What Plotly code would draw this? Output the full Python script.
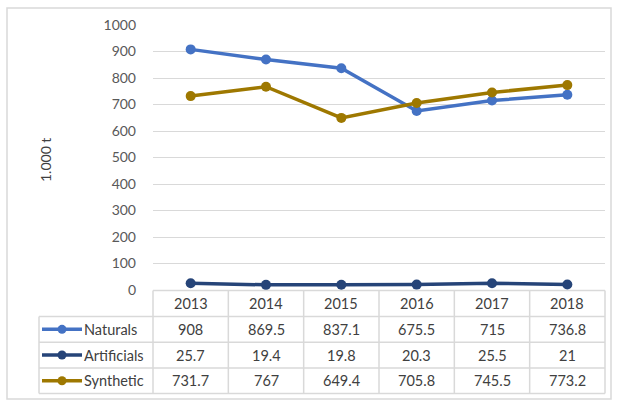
import plotly.graph_objects as go

years = ["2013", "2014", "2015", "2016", "2017", "2018"]
naturals = [908, 869.5, 837.1, 675.5, 715, 736.8]
artificials = [25.7, 19.4, 19.8, 20.3, 25.5, 21]
synthetic = [731.7, 767, 649.4, 705.8, 745.5, 773.2]
series_names = ["Naturals", "Artificials", "Synthetic"]
series_vals = [naturals, artificials, synthetic]
colors = ["#4472C4", "#264478", "#9E7800"]
y_ticks = [0, 100, 200, 300, 400, 500, 600, 700, 800, 900, 1000]

W, H = 618, 404
L, R, T, B = 153, 13, 25, 114
PW, PH = W - L - R, H - T - B

def px(x):
    return (x - L) / PW

def py(y):
    return (H - B - y) / PH

FONT = "Lato, Calibri, Carlito, sans-serif"
TXT = "#404040"
GRID = "#d9d9d9"
TFS = 14.5

fig = go.Figure()
for name, vals, c in zip(series_names, series_vals, colors):
    fig.add_trace(go.Scatter(
        x=list(range(len(years))), y=vals, name=name, mode="lines+markers",
        line=dict(color=c, width=3.5), marker=dict(color=c, size=10),
        showlegend=False, cliponaxis=False))

shapes = []
annotations = []
# outer border
shapes.append(dict(type="rect", xref="paper", yref="paper", x0=px(7), x1=px(611), y0=py(8), y1=py(399),
                   line=dict(color="#d9d9d9", width=1.5), fillcolor="rgba(0,0,0,0)", layer="below"))

row_h = 25.7
table_top = 290.5
header_bot = 316.5
tab_left = 39
col_edges = [L + i * PW / len(years) for i in range(len(years) + 1)]
n_rows = len(series_names)
bottom = header_bot + n_rows * row_h
# horizontal lines
for k in range(n_rows + 1):
    yy = header_bot + k * row_h
    shapes.append(dict(type="line", xref="paper", yref="paper", x0=px(tab_left), x1=px(col_edges[-1]),
                       y0=py(yy), y1=py(yy), line=dict(color=GRID, width=1.5), layer="below"))
shapes.append(dict(type="line", xref="paper", yref="paper", x0=px(col_edges[0]), x1=px(col_edges[-1]),
                   y0=py(table_top), y1=py(table_top), line=dict(color=GRID, width=1.5), layer="below"))
# vertical lines
for xe in col_edges:
    shapes.append(dict(type="line", xref="paper", yref="paper", x0=px(xe), x1=px(xe),
                       y0=py(table_top), y1=py(bottom), line=dict(color=GRID, width=1.5), layer="below"))
shapes.append(dict(type="line", xref="paper", yref="paper", x0=px(tab_left), x1=px(tab_left),
                   y0=py(header_bot), y1=py(bottom), line=dict(color=GRID, width=1.5), layer="below"))

def ann(x, y, text, xanchor="center", size=TFS, **kw):
    d = dict(x=px(x), y=py(y), xref="paper", yref="paper", xanchor=xanchor, yanchor="middle",
             text=text, showarrow=False, font=dict(family=FONT, size=size, color=TXT))
    d.update(kw)
    return d

# header
for i, yr in enumerate(years):
    xc = (col_edges[i] + col_edges[i + 1]) / 2
    annotations.append(ann(xc, (table_top + header_bot) / 2, yr))
# rows
for r, (name, vals, c) in enumerate(zip(series_names, series_vals, colors)):
    yc = header_bot + r * row_h + row_h / 2
    shapes.append(dict(type="line", xref="paper", yref="paper", x0=px(42), x1=px(82), y0=py(yc), y1=py(yc),
                       line=dict(color=c, width=3.5)))
    shapes.append(dict(type="circle", xref="paper", yref="paper", x0=px(57.5), x1=px(66.5),
                       y0=py(yc - 4.5), y1=py(yc + 4.5), line=dict(color=c, width=0), fillcolor=c))
    annotations.append(ann(82, yc, name, xanchor="left"))
    for i, v in enumerate(vals):
        xc = (col_edges[i] + col_edges[i + 1]) / 2
        annotations.append(ann(xc, yc, f"{v:g}"))

annotations.append(ann(45, 160, "1.000 t", textangle=-90, size=14))

fig.update_layout(
    width=W, height=H, margin=dict(l=L, r=R, t=T, b=B),
    paper_bgcolor="white", plot_bgcolor="white",
    xaxis=dict(range=[-0.5, len(years) - 0.5], showticklabels=False, showgrid=False, zeroline=False,
               fixedrange=True),
    yaxis=dict(range=[0, 1000], tickvals=y_ticks, showgrid=True, gridcolor=GRID, gridwidth=1.2,
               zeroline=False, ticks="", ticklabelstandoff=16,
               tickfont=dict(family=FONT, size=14, color="#595959")),
    shapes=shapes, annotations=annotations,
)

fig.write_html("out.html", config={"displayModeBar": False})
with open("out.html", "r", encoding="utf-8") as f:
    html = f.read()
html = html.replace("<body>", '<body style="margin:0;padding:0;overflow:hidden">', 1)
with open("out.html", "w", encoding="utf-8") as f:
    f.write(html)
